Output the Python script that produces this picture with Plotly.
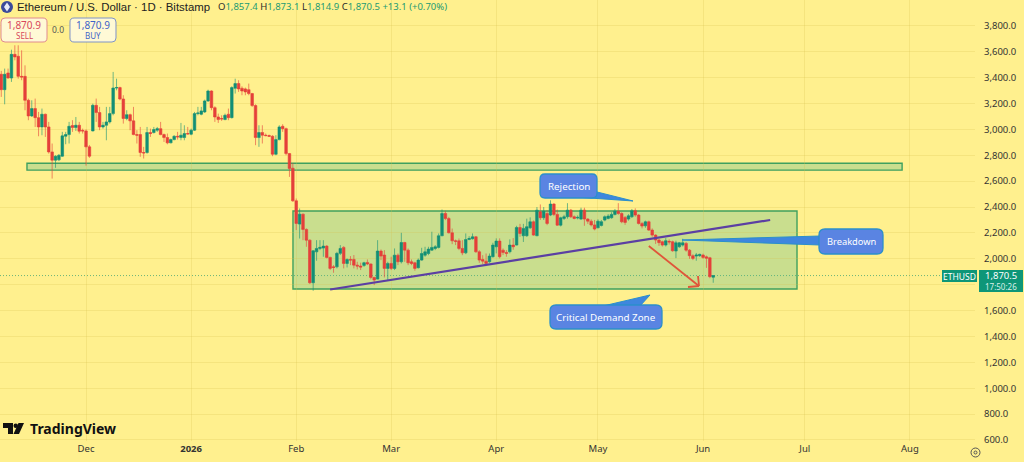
import pandas as pd
import plotly.graph_objects as go

opens = [
 3426,3307,3436,3397,3580,3565,3410,3410,3225,3104,
 3161,3091,3019,3117,3019,2826,2762,2765,2793,2947,
 2960,3030,3014,3032,2992,2988,2865,2988,3186,3130,
 3019,3032,3058,3122,3320,3323,3235,3084,3114,3066,
 2960,2960,2821,2821,2976,2976,2994,3006,2960,2937,
 2896,2921,2947,2937,2937,2968,2963,2994,3122,3117,
 3135,3220,3297,3168,3096,3084,3076,3117,3091,3318,
 3354,3318,3313,3307,3277,3184,2937,2976,2955,2952,
 2947,2808,2921,3024,3006,2813,2700,2448,2268,2345,
 2227,2144,1815,2054,2080,2083,2098,2011,1938,1938,
 2042,2088,1964,1995,1995,1951,1944,1949,1972,1960,
 1856,1843,2060,2029,1926,1964,1926,2028,1977,2126,
 2067,1977,1969,1931,1990,2028,2041,2067,2080,2088,
 2178,2350,2311,2201,2139,2139,2080,2046,2149,2155,
 2170,2054,1995,1982,1977,2016,2093,2137,2067,2049,
 2055,2106,2106,2242,2178,2178,2240,2286,2178,2363,
 2317,2350,2338,2423,2343,2260,2312,2325,2376,2325,
 2315,2307,2376,2307,2291,2262,2240,2258,2299,2312,
 2317,2343,2368,2350,2320,2307,2325,2371,2338,2273,
 2255,2286,2222,2183,2145,2132,2106,2135,2132,2060,
 2093,2106,2119,2067,2024,2021,2024,2029,2015,2008,1857.4]
highs = [
 3452,3470,3470,3616,3650,3650,3611,3495,3238,3225,
 3238,3135,3161,3122,3058,2891,2800,2810,2981,2981,
 3058,3071,3096,3058,3006,2999,2880,3199,3238,3174,
 3058,3174,3174,3444,3392,3330,3264,3148,3122,3174,
 2994,3019,2865,3019,3006,3019,3019,3058,2968,2968,
 2929,2955,2981,3050,3032,3019,3006,3135,3174,3174,
 3230,3307,3302,3179,3122,3109,3122,3161,3333,3392,
 3380,3333,3323,3354,3282,3194,3032,3032,2968,2960,
 2955,2955,3032,3040,3014,2818,2740,2466,2389,2350,
 2235,2150,2067,2144,2144,2144,2106,2016,1951,2054,
 2106,2098,2003,2021,2029,1977,1970,1977,1995,1964,
 1861,2144,2072,2067,1977,2016,2080,2041,2201,2131,
 2080,1995,1977,2003,2085,2093,2093,2209,2106,2196,
 2381,2371,2324,2234,2149,2157,2144,2196,2175,2196,
 2175,2067,2028,2041,2041,2124,2158,2158,2080,2067,
 2150,2160,2255,2270,2270,2310,2320,2296,2400,2420,
 2400,2375,2452,2430,2380,2325,2340,2430,2385,2335,
 2335,2395,2395,2315,2305,2300,2305,2300,2335,2345,
 2360,2385,2430,2360,2330,2345,2385,2390,2345,2285,
 2295,2295,2235,2190,2155,2140,2160,2150,2140,2140,
 2130,2155,2130,2075,2035,2045,2040,2040,2025,2015,1873.1]
lows = [
 3251,3194,3392,3367,3534,3392,3380,3148,3071,3096,
 3019,2947,2955,2942,2813,2620,2703,2755,2788,2885,
 2891,2981,2988,2968,2968,2720,2780,2985,3058,2994,
 3006,2916,3045,3109,3302,3225,3045,3071,2994,2955,
 2891,2788,2775,2813,2942,2968,2981,2955,2903,2885,
 2893,2916,2921,2916,2916,2960,2955,2988,3109,3109,
 3127,3212,3148,3058,3050,3066,3071,3071,3084,3277,
 3290,3264,3264,3264,3174,2878,2865,2891,2947,2942,
 2793,2800,2916,2981,2800,2633,2440,2222,2157,2144,
 2093,1805,1753,1985,2067,2016,2003,1913,1892,1926,
 2029,1926,1933,1951,1926,1918,1913,1938,1951,1841,
 1797,1841,1990,1856,1836,1913,1913,1951,1964,1977,
 1951,1951,1908,1925,1985,2016,2028,2062,2067,2080,
 2175,2299,2196,2113,2106,2067,2028,2036,2144,2149,
 2046,1969,1959,1944,1969,2010,2042,2003,2029,2016,
 2042,2070,2103,2170,2130,2170,2230,2178,2175,2300,
 2300,2260,2330,2330,2255,2250,2300,2310,2315,2305,
 2305,2300,2255,2270,2250,2220,2235,2250,2290,2305,
 2310,2335,2340,2275,2262,2295,2315,2325,2265,2235,
 2240,2215,2170,2115,2100,2095,2095,2110,2055,2005,
 2085,2095,2055,2000,1990,1985,2015,2000,1930,1850,1814.9]
closes = [
 3307,3426,3397,3580,3560,3410,3405,3225,3104,3161,
 3091,3019,3117,3019,2826,2762,2793,2800,2950,2960,
 3024,3014,3032,2986,2988,2865,2793,3186,3130,3019,
 3032,3058,3122,3320,3323,3235,3084,3114,3066,2960,
 2955,2821,2818,2976,2968,2999,3006,2960,2937,2896,
 2921,2947,2942,2955,2968,2965,2994,3122,3127,3143,
 3220,3297,3168,3096,3076,3081,3109,3091,3323,3354,
 3313,3297,3290,3277,3184,2937,2976,2955,2952,2947,
 2808,2921,3019,3006,2813,2698,2448,2273,2345,2227,
 2144,1815,2062,2080,2088,2098,2011,1926,1933,2042,
 2080,1964,1995,1990,1951,1944,1936,1970,1960,1856,
 1836,2060,2021,1926,1964,1926,2028,1977,2126,2067,
 1969,1964,1926,1990,2041,2054,2075,2088,2093,2178,
 2350,2311,2201,2139,2135,2080,2046,2149,2157,2170,
 2054,1990,1982,1964,2021,2106,2137,2016,2049,2042,
 2106,2093,2242,2196,2235,2248,2286,2183,2376,2317,
 2368,2273,2423,2343,2260,2317,2325,2376,2325,2312,
 2320,2376,2307,2291,2262,2230,2291,2287,2325,2330,
 2343,2368,2350,2286,2281,2332,2371,2338,2273,2253,
 2286,2222,2183,2145,2125,2106,2140,2130,2062,2124,
 2124,2124,2067,2024,2003,2029,2034,2011,2005,1862,1870.5]
dates = pd.date_range("2025-11-06", periods=len(closes), freq="D")

month_ticks = ["2025-12-01","2026-01-01","2026-02-01","2026-03-01","2026-04-01",
               "2026-05-01","2026-06-01","2026-07-01","2026-08-01"]
month_labels = ["Dec","<b>2026</b>","Feb","Mar","Apr","May","Jun","Jul","Aug"]
price_ticks = [600,800,1000,1200,1400,1600,2000,2200,2400,2600,2800,3000,3200,3400,3600,3800,4000]
grid_prices = [600,800,1000,1200,1400,1600,1800,2000,2200,2400,2600,2800,3000,3200,3400,3600,3800,4000]
last_price = 1870.5

BG = "#FFF08E"; GRID = "rgba(215,190,80,0.25)"; UP = "#128F76"; DOWN = "#E5403A"
UP_WICK = "rgba(18,143,118,0.6)"; DOWN_WICK = "rgba(229,64,58,0.6)"
ZONE_LINE = "#3FA05F"; ZONE_FILL = "rgba(75,183,142,0.3)"
BLUE = "#5A84E2"; BLUE_EDGE = "#2B8FCB"
FONT = "Noto Sans"; HEAD_FONT = "Liberation Sans"; INK = "#2A2A2A"

PW, PH = 975, 441
def X(p): return p / PW
def Y(p): return 1 - p / PH
def path(points):
    return "M " + " L ".join(f"{X(a):.5f},{Y(b):.5f}" for a, b in points) + " Z"
def rbox(x0, y0, x1, y1, r):
    def pt(a, b): return f"{X(a):.5f},{Y(b):.5f}"
    return (f"M {pt(x0+r,y0)} L {pt(x1-r,y0)} Q {pt(x1,y0)} {pt(x1,y0+r)} L {pt(x1,y1-r)} "
            f"Q {pt(x1,y1)} {pt(x1-r,y1)} L {pt(x0+r,y1)} Q {pt(x0,y1)} {pt(x0,y1-r)} "
            f"L {pt(x0,y0+r)} Q {pt(x0,y0)} {pt(x0+r,y0)} Z")

fig = go.Figure(go.Candlestick(
    x=dates, open=opens, high=highs, low=lows, close=closes,
    increasing=dict(line=dict(color=UP_WICK, width=1), fillcolor=UP),
    decreasing=dict(line=dict(color=DOWN_WICK, width=1), fillcolor=DOWN),
    whiskerwidth=0, showlegend=False, hoverinfo="skip"))

shapes = []
# zones (data coordinates)
shapes.append(dict(type="rect", xref="x", yref="y", layer="below",
    x0="2025-11-13 14:00", x1="2026-07-29 17:00", y0=2685, y1=2739,
    line=dict(color=ZONE_LINE, width=1.4), fillcolor=ZONE_FILL))
shapes.append(dict(type="rect", xref="x", yref="y", layer="below",
    x0="2026-01-31 01:00", x1="2026-06-28 17:00", y0=1767, y1=2369,
    line=dict(color=ZONE_LINE, width=1.4), fillcolor=ZONE_FILL))
shapes.append(dict(type="line", xref="paper", yref="y", layer="below", x0=0, x1=1,
    y0=last_price, y1=last_price, line=dict(color="rgba(30,150,110,0.65)", width=1, dash="1px,2px")))
# trend line & arrow
shapes.append(dict(type="line", xref="x", yref="y",
    x0="2026-02-11", x1="2026-06-20 19:00", y0=1763, y1=2300,
    line=dict(color="#5B3FA3", width=2.2)))
shapes.append(dict(type="line", xref="x", yref="y",
    x0="2026-05-16", x1="2026-05-30 19:00", y0=2099, y1=1790,
    line=dict(color="#E0553A", width=1.8)))
for a, b in [(688, 287), (698, 276)]:
    shapes.append(dict(type="line", xref="paper", yref="paper",
        x0=X(699), y0=Y(286), x1=X(a), y1=Y(b), line=dict(color="#E0553A", width=1.8)))
# callouts: tails then bodies
tails = [[(575, 197), (633, 201), (597, 192)],
         [(820, 236), (682, 240), (820, 245)],
         [(603, 306), (650, 295), (640, 306)]]
for t in tails:
    shapes.append(dict(type="path", xref="paper", yref="paper", path=path(t),
        fillcolor="#3F86DE", line=dict(color=BLUE_EDGE, width=1)))
for b in [(540, 174, 597, 198, 5), (819, 229, 883, 254, 6), (550, 305, 662, 329, 6)]:
    shapes.append(dict(type="path", xref="paper", yref="paper", path=rbox(*b),
        fillcolor=BLUE, line=dict(color=BLUE_EDGE, width=1.3)))
# buy / sell boxes
shapes.append(dict(type="path", xref="paper", yref="paper", path=rbox(1, 18, 47, 42, 4),
    fillcolor="#FFF9D6", line=dict(color="#E08A90", width=1)))
shapes.append(dict(type="path", xref="paper", yref="paper", path=rbox(70, 18, 116, 42, 4),
    fillcolor="#FFF9D6", line=dict(color="#7F93C8", width=1)))
# coin icon
shapes.append(dict(type="circle", xref="paper", yref="paper", x0=X(1), x1=X(13), y0=Y(13), y1=Y(1),
    fillcolor="#3B4A9A", line=dict(width=0)))
shapes.append(dict(type="path", xref="paper", yref="paper",
    path=path([(7, 2.5), (10, 7), (7, 11.5), (4, 7)]), fillcolor="#E8ECF8", line=dict(width=0)))
# last price tags
shapes.append(dict(type="rect", xref="paper", yref="paper", x0=X(942), x1=X(977), y0=Y(282), y1=Y(270),
    fillcolor="#0E9678", line=dict(width=0)))
shapes.append(dict(type="rect", xref="paper", yref="paper", x0=X(979), x1=X(1023), y0=Y(292), y1=Y(270),
    fillcolor="#0E9678", line=dict(width=0)))
# logo
shapes.append(dict(type="path", xref="paper", yref="paper",
    path=path([(3, 423), (13, 423), (13, 434), (8, 434), (8, 428), (3, 428)]), fillcolor="#111", line=dict(width=0)))
shapes.append(dict(type="circle", xref="paper", yref="paper", x0=X(13.5), x1=X(18), y0=Y(428), y1=Y(423.5),
    fillcolor="#111", line=dict(width=0)))
shapes.append(dict(type="path", xref="paper", yref="paper",
    path=path([(18.5, 423), (24, 423), (19, 434), (13.5, 434)]), fillcolor="#111", line=dict(width=0)))
# settings icon
shapes.append(dict(type="circle", xref="paper", yref="paper", x0=X(971), x1=X(980), y0=Y(457), y1=Y(448),
    fillcolor="rgba(0,0,0,0)", line=dict(color="#555", width=1)))
shapes.append(dict(type="circle", xref="paper", yref="paper", x0=X(974), x1=X(977), y0=Y(454), y1=Y(451),
    fillcolor="rgba(0,0,0,0)", line=dict(color="#555", width=1)))

def label(x, y, text, size=10, color=INK, anchor="left", family=FONT, **kw):
    return dict(xref="paper", yref="paper", x=X(x), y=Y(y), text=text, showarrow=False,
                xanchor=anchor, yanchor="middle", font=dict(size=size, color=color, family=family),
                align=anchor, borderpad=0, **kw)

G = "#1B9A73"
ohlc = (f'<span style="color:{INK}">O</span>1,857.4 <span style="color:{INK}">H</span>1,873.1 '
        f'<span style="color:{INK}">L</span>1,814.9 <span style="color:{INK}">C</span>1,870.5 +13.1 (+0.70%)')
annotations = [
    label(16, 7, "Ethereum / U.S. Dollar · 1D · Bitstamp", size=11.4, color="#222", family=HEAD_FONT),
    label(217, 6, ohlc, size=9.5, color=G),
    label(24, 25, "1,870.9", size=10, color="#D8475B", anchor="center"),
    label(24, 35.5, "SELL", size=8, color="#D8475B", anchor="center"),
    label(58, 29.5, "0.0", size=8.5, color="#555", anchor="center"),
    label(93, 25, "1,870.9", size=10, color="#3F63C8", anchor="center"),
    label(93, 35.5, "BUY", size=8, color="#3F63C8", anchor="center"),
    label(568.5, 186, "Rejection", size=9.8, color="white", anchor="center"),
    label(851, 241, "Breakdown", size=9.3, color="white", anchor="center"),
    label(606, 317, "Critical Demand Zone", size=9.8, color="white", anchor="center"),
    label(959.5, 276, "ETHUSD", size=8.5, color="white", anchor="center"),
    label(1001, 275, "1,870.5", size=9.5, color="white", anchor="center"),
    label(1001, 286.5, "17:50:26", size=8, color="#D8F0E8", anchor="center"),
    label(29, 428, "<b>TradingView</b>", size=14, color="#111"),
]

fig.update_layout(
    width=1024, height=462, margin=dict(l=0, r=49, t=0, b=21, autoexpand=False),
    paper_bgcolor=BG, plot_bgcolor=BG, showlegend=False, dragmode=False,
    boxgap=0.2, boxgroupgap=0.05,
    shapes=shapes, annotations=annotations,
    font=dict(family=FONT, size=10, color="#333"),
    xaxis=dict(type="date", range=["2025-11-05 15:00", "2026-08-20 05:00"],
               rangeslider=dict(visible=False), tickmode="array",
               tickvals=month_ticks, ticktext=month_labels, ticks="", ticklen=0,
               showgrid=True, gridcolor=GRID, gridwidth=1, zeroline=False, showline=False,
               tickfont=dict(size=9.5, color="#333", family=FONT), fixedrange=True),
    yaxis=dict(side="right", range=[592, 4000], tickmode="array",
               tickvals=price_ticks, tickformat=",.1f", ticks="", ticklen=0, ticklabelstandoff=8,
               showgrid=False, zeroline=False, showline=False,
               tickfont=dict(size=9.5, color="#333", family=FONT), fixedrange=True),
    yaxis2=dict(overlaying="y", side="left", range=[592, 4000], tickmode="array",
                tickvals=grid_prices, showticklabels=False, ticks="",
                showgrid=True, gridcolor=GRID, gridwidth=1, zeroline=False, showline=False,
                fixedrange=True),
)
fig.add_trace(go.Scatter(x=[dates[0]], y=[grid_prices[0]], yaxis="y2", mode="markers",
                         marker=dict(opacity=0), showlegend=False, hoverinfo="skip"))

fig.write_html("out.html", config=dict(displayModeBar=False, responsive=False),
               post_script="document.body.style.margin='0';document.body.style.overflow='hidden';")
